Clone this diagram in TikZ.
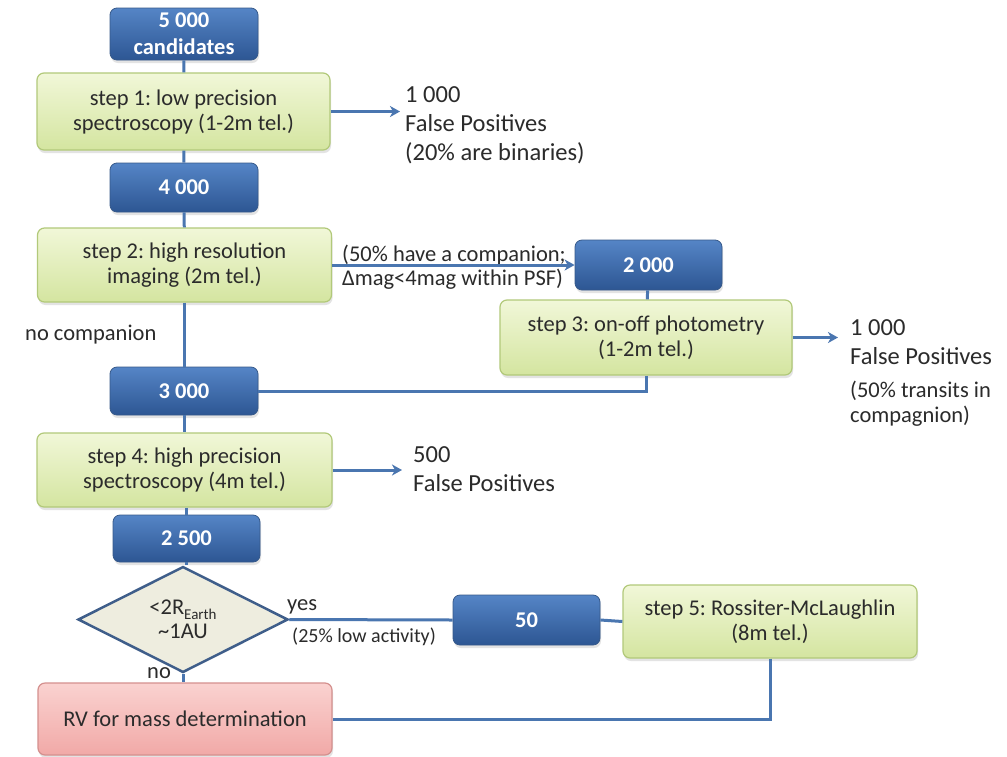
\documentclass[tikz,border=0pt]{standalone}
\usepackage{fontspec}
\setmainfont{Carlito}
\frenchspacing
\usetikzlibrary{shapes.geometric,arrows.meta,shadows}
\definecolor{lineblue}{HTML}{4A76B0}
\definecolor{bluetop}{HTML}{5585C6}
\definecolor{bluebot}{HTML}{2D5693}
\definecolor{blueborder}{HTML}{36598A}
\definecolor{greentop}{HTML}{F1F7D8}
\definecolor{greenbot}{HTML}{D4E5A0}
\definecolor{greenborder}{HTML}{B2C97A}
\definecolor{redtop}{HTML}{FAD2D0}
\definecolor{redbot}{HTML}{F1A9A7}
\definecolor{redborder}{HTML}{D4908E}
\definecolor{diamfill}{HTML}{EEEDDF}
\definecolor{diamdraw}{HTML}{3F5E8A}
\definecolor{txt}{HTML}{2B2B2B}
\newcommand\fs[2]{\fontsize{#1}{#2}\selectfont}
\tikzset{
  conn/.style={draw=lineblue, line width=3pt},
  arr/.style={conn, -{Stealth[length=10pt,width=11pt,inset=3pt]}},
  box/.style={rounded corners=7pt, align=center, inner sep=0pt,
    drop shadow={shadow xshift=1pt, shadow yshift=-3pt, opacity=0.22}},
  bluebox/.style={box, top color=bluetop, bottom color=bluebot, draw=blueborder,
    line width=0.8pt, text=white, font=\fs{22.5}{27}\bfseries},
  greenbox/.style={box, top color=greentop, bottom color=greenbot, draw=greenborder,
    line width=1.2pt, text=txt, font=\fs{22.5}{25}},
  redbox/.style={box, top color=redtop, bottom color=redbot, draw=redborder,
    line width=1.2pt, text=txt, font=\fs{22.5}{25}},
  decision/.style={diamond, draw=diamdraw, fill=diamfill, line width=2.5pt,
    inner sep=0pt, align=center, text=txt, font=\fs{22.5}{24}},
  lbl/.style={inner sep=0pt, anchor=base west, text=txt, font=\fs{22.5}{25}},
  fp/.style={inner sep=0pt, anchor=north west, align=left, text=txt, font=\fs{24.5}{29}},
  note/.style={inner sep=0pt, anchor=north west, align=left, text=txt, font=\fs{22.5}{25}},
}
\begin{document}
\begin{tikzpicture}[x=1pt,y=-1pt]
\useasboundingbox[fill=white] (0,0) rectangle (1007,756);

% boxes
\node[bluebox, minimum width=148pt, minimum height=52pt] (c5000) at (184,34) {5 000\\candidates};
\node[greenbox, minimum width=293pt, minimum height=77pt] (s1) at (183.5,111.5) {step 1: low precision\\spectroscopy (1-2m tel.)};
\node[bluebox, minimum width=148pt, minimum height=49pt] (c4000) at (184,187.5) {4 000};
\node[greenbox, minimum width=294pt, minimum height=74pt] (s2) at (184.5,265) {step 2: high resolution\\imaging (2m tel.)};
\node[bluebox, minimum width=147pt, minimum height=50pt] (c2000) at (648.5,265) {2 000};
\node[greenbox, minimum width=292pt, minimum height=75pt] (s3) at (646,337.5) {step 3: on-off photometry\\(1-2m tel.)};
\node[bluebox, minimum width=148pt, minimum height=48pt] (c3000) at (184,391) {3 000};
\node[greenbox, minimum width=295pt, minimum height=74pt] (s4) at (184.5,470) {step 4: high precision\\spectroscopy (4m tel.)};
\node[bluebox, minimum width=147pt, minimum height=47pt] (c2500) at (186.5,538.5) {2 500};
\node[decision, minimum width=210pt, minimum height=95pt] (d) at (183,619.5)
  {<2R{\fs{15}{15}\raisebox{-5pt}{Earth}}\\\textasciitilde 1AU};
\node[bluebox, minimum width=147pt, minimum height=50pt] (c50) at (526.5,620) {50};
\node[greenbox, minimum width=294pt, minimum height=73pt] (s5) at (770,621.5) {step 5: Rossiter-McLaughlin\\(8m tel.)};
\node[redbox, minimum width=294pt, minimum height=72pt] (rv) at (185,719) {RV for mass determination};

% side texts
\node[fp] (fp1) at (405,81.7) {\strut 1 000\\False Positives\\(20\% are binaries)};
\node[fp] (fp3) at (850,314.7) {\strut 1 000\\False Positives};
\node[note] (fp3n) at (850,379.5) {\strut (50\% transits in\\compagnion)};
\node[fp] (fp4) at (413,441.7) {\strut 500\\False Positives};
\node[note, font=\fs{22.5}{24}] (comp) at (342,244.2) {\strut (50\% have a companion;\\Δmag<4mag within PSF)};
\node[lbl] (nocomp) at (25,340) {no companion};
\node[lbl] (yes) at (287,610) {yes};
\node[lbl, font=\fs{20}{22}] (act) at (292,642) {(25\% low activity)};
\node[lbl] (no) at (147,678) {no};

% free ends
\coordinate (e1) at (400,111.5);
\coordinate (e3) at (838,337.5);
\coordinate (e4) at (402,470);

% connectors
\draw[conn] (c5000) -- (s1);
\draw[conn] (s1) -- (c4000);
\draw[conn] (c4000) -- (s2);
\draw[conn] (s2.south -| c3000) -- (c3000);
\draw[conn] (c3000.south) -- (c3000.south |- s4.north);
\draw[conn] (s4.south -| c2500) -- (c2500);
\draw[conn] (c2500.south) -- (c2500.south |- d.north);
\draw[conn] (c2000) -- (s3);
\draw[conn] (s3.south) |- (c3000.east);
\draw[conn] (d.east) -- (c50.west);
\draw[conn] (c50.east) -- (s5.west);
\draw[conn] (s5.south) |- (rv.east);
\draw[conn] (d.south) -- (d.south |- rv.north);
\draw[arr] (s1.east) -- (e1);
\draw[arr] (s2.east) -- (c2000.west);
\draw[arr] (s3.east) -- (e3);
\draw[arr] (s4.east) -- (e4);
\end{tikzpicture}
\end{document}
